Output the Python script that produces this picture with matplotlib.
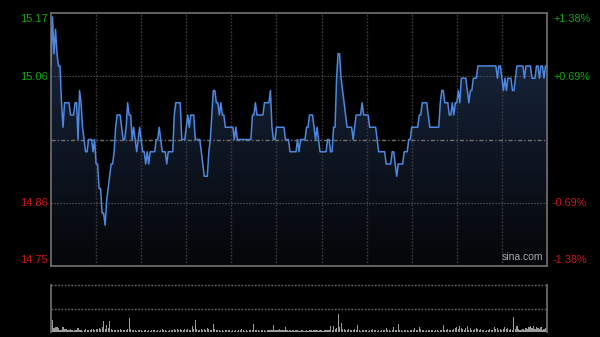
import numpy as np
import matplotlib
matplotlib.use("Agg")
import matplotlib.pyplot as plt
from matplotlib.colors import LinearSegmentedColormap
from matplotlib.patches import Polygon

# ---------------- data ----------------
prev_close = 14.96
price_labels = ["15.17", "15.06", "14.86", "14.75"]
pct_labels = ["+1.38%", "+0.69%", "-0.69%", "-1.38%"]

prices = [
    15.08, 15.16, 15.10, 15.14, 15.10, 15.08, 15.08, 15.02, 14.98, 15.02,
    15.02, 15.02, 15.02, 15.00, 15.00, 15.00, 15.02, 15.02, 14.96, 15.04,
    15.02, 14.98, 14.96, 14.94, 14.94, 14.96, 14.96, 14.96, 14.94, 14.96,
    14.92, 14.92, 14.88, 14.88, 14.84, 14.84, 14.82, 14.86, 14.88, 14.90,
    14.92, 14.92, 14.94, 14.98, 15.00, 15.00, 15.00, 14.98, 14.96, 14.96,
    14.98, 15.02, 15.00, 15.00, 14.96, 14.98, 14.96, 14.94, 14.96, 14.98,
    14.96, 14.94, 14.94, 14.92, 14.94, 14.92, 14.94, 14.94, 14.94, 14.94,
    14.96, 14.96, 14.98, 14.96, 14.94, 14.94, 14.94, 14.92, 14.94, 14.94,
    14.94, 14.94, 15.00, 15.02, 15.02, 15.02, 15.02, 14.96, 14.96, 14.96,
    14.98, 15.00, 14.98, 15.00, 15.00, 15.00, 14.96, 14.96, 14.96, 14.96,
    14.94, 14.92, 14.90, 14.90, 14.90, 14.94, 14.96, 15.00, 15.04, 15.04,
    15.02, 15.02, 15.00, 15.02, 15.00, 15.00, 14.98, 14.98, 14.98, 14.98,
    14.98, 14.98, 14.96, 14.98, 14.96, 14.96, 14.96, 14.96, 14.96, 14.96,
    14.96, 14.96, 14.96, 14.96, 15.00, 15.00, 15.02, 15.00, 15.00, 15.00,
    15.00, 15.00, 15.02, 15.02, 15.02, 15.02, 15.04, 14.98, 14.96, 14.96,
    14.98, 14.98, 14.98, 14.98, 14.98, 14.98, 14.96, 14.96, 14.96, 14.94,
    14.94, 14.94, 14.94, 14.94, 14.96, 14.94, 14.96, 14.96, 14.96, 14.96,
    14.98, 14.98, 15.00, 15.00, 15.00, 14.98, 14.96, 14.98, 14.96, 14.94,
    14.94, 14.94, 14.94, 14.94, 14.96, 14.96, 14.94, 14.94, 14.98, 14.98,
    15.06, 15.10, 15.10, 15.06, 15.04, 15.02, 15.00, 14.98, 14.98, 14.98,
    14.98, 14.96, 14.98, 15.00, 15.00, 15.00, 15.00, 15.02, 15.00, 15.00,
    15.00, 15.00, 14.98, 14.98, 14.98, 14.98, 14.98, 14.96, 14.94, 14.94,
    14.94, 14.94, 14.94, 14.92, 14.92, 14.92, 14.92, 14.94, 14.94, 14.92,
    14.90, 14.92, 14.92, 14.92, 14.92, 14.94, 14.94, 14.94, 14.96, 14.96,
    14.98, 14.98, 14.98, 14.98, 14.98, 15.00, 15.00, 15.02, 15.02, 15.02,
    15.02, 15.00, 14.98, 14.98, 14.98, 14.98, 14.98, 14.98, 14.98, 15.02,
    15.04, 15.04, 15.02, 15.02, 15.02, 15.00, 15.00, 15.02, 15.00, 15.02,
    15.02, 15.04, 15.02, 15.06, 15.06, 15.06, 15.06, 15.04, 15.02, 15.04,
    15.04, 15.06, 15.06, 15.06, 15.08, 15.08, 15.08, 15.08, 15.08, 15.08,
    15.08, 15.08, 15.08, 15.08, 15.08, 15.08, 15.08, 15.06, 15.08, 15.08,
    15.06, 15.04, 15.06, 15.04, 15.06, 15.06, 15.06, 15.04, 15.04, 15.06,
    15.08, 15.08, 15.08, 15.08, 15.08, 15.06, 15.08, 15.08, 15.08, 15.08,
    15.06, 15.06, 15.06, 15.08, 15.08, 15.06, 15.08, 15.08, 15.06, 15.08,
    15.08,
]

volumes = [
    3, 12, 4, 5, 5, 4, 2, 2, 5, 3,
    3, 2, 2, 3, 2, 1, 2, 2, 4, 2,
    2, 1, 2, 3, 2, 2, 2, 3, 3, 2,
    3, 3, 4, 3, 5, 11, 3, 7, 4, 11,
    3, 2, 2, 2, 2, 2, 3, 2, 2, 2,
    2, 3, 14, 3, 2, 2, 2, 1, 2, 2,
    2, 1, 2, 2, 1, 2, 1, 2, 2, 2,
    1, 2, 1, 2, 3, 2, 2, 1, 1, 2,
    2, 2, 3, 2, 3, 2, 3, 2, 2, 3,
    2, 3, 2, 2, 6, 3, 12, 3, 2, 2,
    3, 2, 3, 2, 4, 3, 2, 2, 8, 3,
    2, 2, 2, 1, 2, 1, 2, 2, 2, 2,
    1, 2, 1, 2, 1, 2, 2, 3, 2, 1,
    2, 1, 2, 2, 2, 8, 2, 2, 2, 1,
    2, 2, 2, 1, 2, 2, 2, 2, 7, 2,
    2, 2, 3, 2, 2, 2, 5, 2, 1, 2,
    1, 2, 1, 2, 2, 1, 1, 2, 1, 1,
    2, 1, 2, 2, 1, 2, 2, 2, 1, 2,
    2, 1, 2, 2, 2, 2, 6, 2, 6, 3,
    4, 18, 5, 9, 3, 3, 2, 2, 3, 2,
    2, 2, 3, 2, 7, 2, 1, 2, 2, 2,
    2, 1, 2, 2, 3, 2, 2, 1, 2, 1,
    2, 2, 2, 4, 2, 2, 1, 2, 5, 2,
    2, 8, 2, 2, 1, 2, 2, 2, 1, 2,
    2, 2, 4, 2, 2, 5, 3, 2, 2, 1,
    2, 2, 2, 2, 2, 1, 2, 2, 1, 2,
    2, 7, 2, 2, 3, 2, 2, 2, 3, 4,
    5, 3, 6, 4, 3, 2, 4, 6, 2, 4,
    2, 2, 3, 4, 3, 2, 3, 2, 2, 1,
    2, 2, 3, 2, 2, 5, 3, 4, 2, 3,
    2, 3, 5, 3, 4, 2, 3, 2, 15, 3,
    6, 3, 2, 2, 3, 2, 4, 3, 5, 6,
    4, 6, 3, 5, 4, 3, 5, 2, 3, 4,
    3,
]

minutes = np.arange(len(prices))
n_last = len(prices) - 1

# ---------------- figure ----------------
W, H = 600, 337
fig = plt.figure(figsize=(W / 100, H / 100), dpi=100, facecolor="black")

ymin = prev_close * (1 - 0.0138)
ymax = prev_close * (1 + 0.0138)
q1 = prev_close * (1 + 0.0069)
q3 = prev_close * (1 - 0.0069)

ax = fig.add_axes([51 / W, (H - 266) / H, 496 / W, 253 / H])
ax.set_facecolor("black")
ax.set_xlim(0, n_last)
ax.set_ylim(ymin, ymax)
ax.set_xticks([])
ax.set_yticks([])
for s in ax.spines.values():
    s.set_color("#6a6a6a")
    s.set_linewidth(1.3)

# gradient fill under line
cmap = LinearSegmentedColormap.from_list("g", ["#050608", "#1a2944"])
img = ax.imshow(np.linspace(1, 0, 256).reshape(-1, 1), extent=[0, n_last, ymin, ymax],
                aspect="auto", cmap=cmap, zorder=1, interpolation="bilinear")
verts = [(0, ymin)] + list(zip(minutes, prices)) + [(n_last, ymin)]
poly = Polygon(verts, closed=True, facecolor="none", edgecolor="none")
ax.add_patch(poly)
img.set_clip_path(poly)

# grid
for m in range(30, 330, 30):
    ax.axvline(m, color="#3c3c3c", lw=1.0, ls=(0, (1.2, 1.2)), zorder=2)
for yv in (q1, q3):
    ax.axhline(yv, color="#5a5a5a", lw=0.8, ls=(0, (1.2, 1.5)), zorder=2)
ax.axhline(prev_close, color="#707070", lw=1.0, ls=(0, (3, 1.5, 1, 1.5)), zorder=2)

ax.plot(minutes, prices, color="#4d88e0", lw=1.1, zorder=3)

ax.text(0.993, 0.015, "sina.com", transform=ax.transAxes, ha="right", va="bottom",
        color="#a8a8a8", fontsize=7.5, family="Liberation Sans", zorder=4)

# axis labels
green = "#12a812"
red = "#d01818"
label_y = [19, 76.5, 203, 260]
label_c = [green, green, red, red]
for lab, py, c in zip(price_labels, label_y, label_c):
    fig.text(48 / W, 1 - py / H, lab, ha="right", va="center", color=c,
             fontsize=8, family="Liberation Sans")
for lab, py, c in zip(pct_labels, label_y, label_c):
    fig.text(553 / W, 1 - py / H, lab, ha="left", va="center", color=c,
             fontsize=7.8, family="Liberation Sans")

# volume panel
vax = fig.add_axes([51 / W, 5 / H, 496 / W, 47 / H])
vax.set_facecolor("black")
vax.set_xlim(0, n_last)
vax.set_ylim(0, 47)
vax.set_xticks([])
vax.set_yticks([])
for k in ("top", "bottom"):
    vax.spines[k].set_visible(False)
for k in ("left", "right"):
    vax.spines[k].set_color("#6a6a6a")
    vax.spines[k].set_linewidth(1.3)
vax.axhline(47, color="#6a6a6a", lw=1.0, ls=(0, (1.2, 1.2)), clip_on=False)
vax.axhline(23.5, color="#6a6a6a", lw=1.0, ls=(0, (1.2, 1.2)))
vax.bar(minutes, volumes, width=0.75, color="#9a9a9a", linewidth=0)

fig.savefig("out.png", dpi=100, facecolor="black")
